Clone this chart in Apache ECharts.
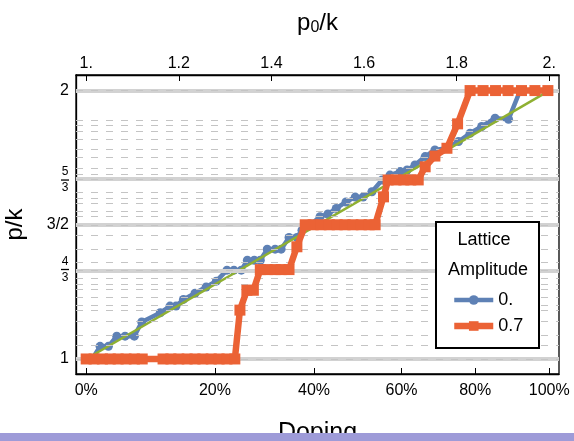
<!DOCTYPE html>
<html><head><meta charset="utf-8">
<script src="https://cdn.jsdelivr.net/npm/echarts@6/dist/echarts.min.js"></script>
<style>html,body{margin:0;padding:0;background:#fff}#c{width:574px;height:441px}</style>
</head><body><div id="c"></div>
<script>
// ---- data ----
// x values are p0/k (top axis); y values are p/k
const topTicks = [1, 1.2, 1.4, 1.6, 1.8, 2];
const topTickLabels = ['1.', '1.2', '1.4', '1.6', '1.8', '2.'];
const dopingTickLabels = ['0%', '20%', '40%', '60%', '80%', '100%'];
const dopingTickP0 = [1.0, 1.278, 1.492, 1.681, 1.840, 2.0];   // where the doping ticks sit on the p0/k scale
const yTicks = [1, 4/3, 1.5, 5/3, 2];
const majorLevels = [1, 4/3, 1.5, 5/3, 2];
const minorLevels = [1.0, 1.049, 1.088, 1.138, 1.175, 1.2, 1.231, 1.259, 1.281, 1.304, 1.333, 1.365, 1.409, 1.455, 1.5,
  1.530, 1.555, 1.578, 1.601, 1.623, 1.667, 1.694, 1.714, 1.752, 1.779, 1.820, 1.846, 1.868, 1.894, 2.0];
const freeLine = [[1.0, 1.0], [2.0, 2.0]];
const amp0 = [[1.000,1.000],[1.013,1.000],[1.030,1.047],[1.048,1.047],[1.066,1.085],[1.084,1.085],[1.104,1.085],[1.120,1.138],
  [1.160,1.172],[1.181,1.197],[1.194,1.197],[1.210,1.222],[1.235,1.245],[1.259,1.268],[1.281,1.290],[1.304,1.331],[1.319,1.331],
  [1.335,1.331],[1.348,1.368],[1.363,1.368],[1.376,1.368],[1.391,1.409],[1.408,1.409],[1.421,1.409],[1.438,1.453],[1.455,1.453],
  [1.466,1.480],[1.486,1.503],[1.505,1.530],[1.522,1.540],[1.540,1.561],[1.561,1.585],[1.581,1.603],[1.598,1.603],[1.617,1.623],
  [1.639,1.667],[1.656,1.685],[1.678,1.698],[1.693,1.704],[1.710,1.723],[1.732,1.754],[1.753,1.779],[1.779,1.785],[1.804,1.810],
  [1.829,1.841],[1.854,1.866],[1.883,1.897],[1.912,1.893],[1.937,2.0],[1.965,2.0],[1.993,2.0]];
const amp07 = [[1.000,1],[1.017,1],[1.035,1],[1.052,1],[1.069,1],[1.086,1],[1.104,1],[1.121,1],[1.166,1],[1.183,1],[1.200,1],
  [1.218,1],[1.235,1],[1.252,1],[1.270,1],[1.287,1],[1.304,1],[1.321,1],[1.332,1.182],[1.347,1.256],[1.361,1.256],[1.376,1.333],
  [1.391,1.333],[1.408,1.333],[1.421,1.333],[1.438,1.333],[1.455,1.418],[1.473,1.5],[1.490,1.5],[1.507,1.5],[1.525,1.5],[1.542,1.5],
  [1.559,1.5],[1.576,1.5],[1.594,1.5],[1.611,1.5],[1.624,1.5],[1.642,1.604],[1.652,1.667],[1.669,1.667],[1.686,1.667],[1.701,1.667],
  [1.717,1.667],[1.732,1.716],[1.753,1.756],[1.779,1.785],[1.802,1.876],[1.829,2],[1.857,2],[1.884,2],[1.911,2],[1.940,2],[1.969,2],[1.997,2]];
const seriesNames = ['0.', '0.7'];

const FONT = '"Liberation Sans", Arial, sans-serif';
const BLUE = '#5E81B5', GREEN = '#8FB032', ORANGE = '#EB6235';
const near = (a, b) => Math.abs(a - b) < 1e-6;

const chart = echarts.init(document.getElementById('c'), null, {renderer: 'canvas'});
const option = {
  animation: false,
  textStyle: {fontFamily: FONT, color: '#000'},
  grid: {left: 76, right: 15, top: 75, bottom: 67, outerBoundsMode: 'none', containLabel: false,
    show: true, borderColor: '#000', borderWidth: 1.3, backgroundColor: 'transparent'},
  xAxis: [{
    type: 'value', position: 'top', min: 0.978, max: 2.021,
    name: '{a|p}{s|0}{a|/k}', nameLocation: 'middle', nameGap: 39,
    nameTextStyle: {rich: {a: {fontSize: 24, fontFamily: FONT, color: '#000'}, s: {fontSize: 16, fontFamily: FONT, color: '#000', padding: [10, 0, 0, 0]}}},
    axisLine: {show: true, lineStyle: {color: '#000', width: 1.3}},
    axisTick: {show: true, inside: true, length: 6, customValues: topTicks, lineStyle: {color: '#000'}},
    axisLabel: {customValues: topTicks, fontSize: 16, margin: 3, color: '#000', fontFamily: FONT,
      formatter: v => topTickLabels[topTicks.findIndex(t => Math.abs(t - v) < 1e-6)] ?? ''},
    splitLine: {show: false}
  }, {
    type: 'value', position: 'bottom', min: 0.978, max: 2.021,
    name: 'Doping', nameLocation: 'middle', nameGap: 47,
    nameTextStyle: {fontSize: 25, fontFamily: FONT, color: '#000'},
    axisLine: {show: true, lineStyle: {color: '#000', width: 1.3}},
    axisTick: {show: true, inside: true, length: 6, customValues: dopingTickP0, lineStyle: {color: '#000'}},
    axisLabel: {customValues: dopingTickP0, fontSize: 16, margin: 9, color: '#000', fontFamily: FONT,
      formatter: v => dopingTickLabels[dopingTickP0.findIndex(t => Math.abs(t - v) < 1e-6)] ?? ''},
    splitLine: {show: false}
  }],
  yAxis: {
    type: 'value', min: 0.944, max: 2.058,
    name: 'p/k', nameLocation: 'middle', nameGap: 49, nameRotate: 90,
    nameTextStyle: {fontSize: 24, fontFamily: FONT, color: '#000'},
    axisLine: {show: true, lineStyle: {color: '#000', width: 1.3}},
    axisTick: {show: true, inside: true, length: 6, customValues: yTicks, lineStyle: {color: '#000'}},
    axisLabel: {customValues: yTicks, margin: 7, color: '#000', fontFamily: FONT, fontSize: 16,
      formatter: v => {
        if (near(v, 4/3)) return '{n|4}\n{bar| }\n{n|3}';
        if (near(v, 5/3)) return '{n|5}\n{bar| }\n{n|3}';
        if (near(v, 1.5)) return '3/2';
        return String(Math.round(v));
      },
      rich: {
        n: {fontSize: 12, lineHeight: 12, width: 8, align: 'center', fontFamily: FONT, color: '#000'},
        bar: {fontSize: 1, width: 8, height: 1.3, lineHeight: 4, backgroundColor: '#000'}
      }},
    splitLine: {show: false}
  },
  legend: {
    z: 80, orient: 'vertical', left: 446, top: 286, itemWidth: 39, itemHeight: 12, itemGap: 8,
    data: [
      {name: seriesNames[0], lineStyle: {width: 4.5, color: BLUE}, itemStyle: {color: BLUE}},
      {name: seriesNames[1], lineStyle: {width: 6.5, color: ORANGE}, itemStyle: {color: ORANGE}}
    ],
    textStyle: {fontSize: 18, fontFamily: FONT, color: '#000'}, selectedMode: false
  },
  series: [
    {type: 'line', name: 'major', data: [], xAxisIndex: 0, z: 1, silent: true, symbol: 'none',
      markLine: {silent: true, symbol: ['none', 'none'], label: {show: false}, animation: false,
        lineStyle: {color: '#d2d2d2', width: 4, type: 'solid'},
        data: majorLevels.map(v => ({yAxis: v}))}},
    {type: 'line', name: 'minor', data: [], xAxisIndex: 0, z: 1, silent: true, symbol: 'none',
      markLine: {silent: true, symbol: ['none', 'none'], label: {show: false}, animation: false,
        lineStyle: {color: '#c4c4c4', width: 1, type: [7, 8]},
        data: minorLevels.map(v => ({yAxis: v}))}},
    {type: 'line', name: seriesNames[0], data: amp0, xAxisIndex: 0, z: 3, symbol: 'circle', symbolSize: 9,
      lineStyle: {color: BLUE, width: 4.5}, itemStyle: {color: BLUE}},
    {type: 'line', name: 'free', data: freeLine, xAxisIndex: 0, z: 4, symbol: 'none',
      lineStyle: {color: GREEN, width: 2.5}},
    {type: 'line', name: seriesNames[1], data: amp07, xAxisIndex: 0, z: 5, symbol: 'rect', symbolSize: 11,
      lineStyle: {color: ORANGE, width: 6.5}, itemStyle: {color: ORANGE}}
  ],
  graphic: [
    {type: 'rect', z: 50, shape: {x: 436, y: 222, width: 103, height: 126}, style: {fill: '#fff', stroke: '#000', lineWidth: 2}},
    {type: 'text', z: 51, x: 484, y: 240, style: {text: 'Lattice', font: '18px ' + FONT, fill: '#000', align: 'center', verticalAlign: 'middle'}},
    {type: 'text', z: 51, x: 488, y: 270, style: {text: 'Amplitude', font: '18px ' + FONT, fill: '#000', align: 'center', verticalAlign: 'middle'}},
    {type: 'rect', z: 100, shape: {x: 0, y: 433, width: 574, height: 8}, style: {fill: '#9e9bd8'}}
  ]
};
chart.setOption(option);
</script></body></html>
